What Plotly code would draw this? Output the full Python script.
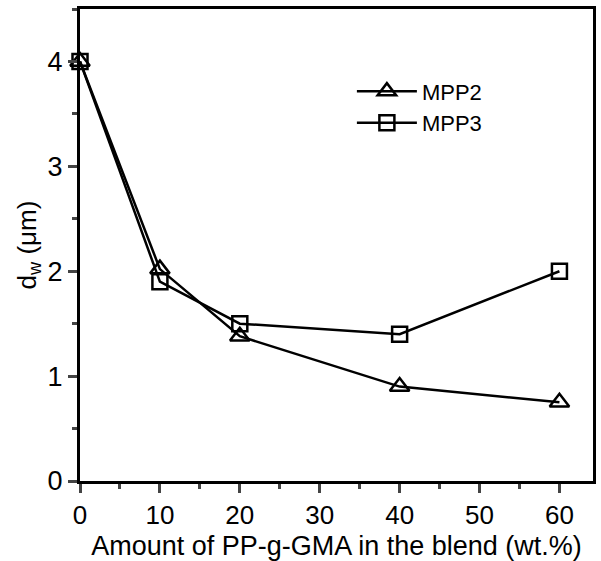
import plotly.graph_objects as go

x_vals = [0, 10, 20, 40, 60]
mpp2 = [4.0, 2.02, 1.38, 0.90, 0.75]
mpp3 = [4.0, 1.90, 1.50, 1.40, 2.00]
series_names = ["MPP2", "MPP3"]

fig = go.Figure()
fig.add_trace(go.Scatter(
    x=x_vals, y=mpp2, name=series_names[0], mode="lines+markers",
    line=dict(color="black", width=2.5),
    marker=dict(symbol="triangle-up-open", size=17, color="black", line=dict(width=2.5)),
    cliponaxis=False,
))
fig.add_trace(go.Scatter(
    x=x_vals, y=mpp3, name=series_names[1], mode="lines+markers",
    line=dict(color="black", width=2.5),
    marker=dict(symbol="square-open", size=15, color="black", line=dict(width=2.5)),
    cliponaxis=False,
))

font_family = "Liberation Sans, Arial, sans-serif"
fig.update_layout(
    width=601, height=561,
    margin=dict(l=80, r=8, t=9, b=80),
    paper_bgcolor="white", plot_bgcolor="white",
    font=dict(family=font_family, size=26, color="black"),
    showlegend=True,
    legend=dict(x=0.53, y=0.87, xanchor="left", yanchor="top",
                bgcolor="rgba(0,0,0,0)", font=dict(size=22),
                tracegroupgap=0, itemwidth=60),
    xaxis=dict(
        range=[0, 64.2], tick0=0, dtick=10, ticks="outside", ticklen=9, tickwidth=2.5,
        showline=True, linewidth=3, linecolor="black", mirror=True,
        showgrid=False, zeroline=False, automargin=False,
        minor=dict(ticks="outside", dtick=5, ticklen=5, tickwidth=2.5, showgrid=False),
        title=dict(text="Amount of PP-g-GMA in the blend (wt.%)", font=dict(size=27), standoff=8),
        tickfont=dict(size=26),
    ),
    yaxis=dict(
        range=[0, 4.5], tick0=0, dtick=1, ticks="outside", ticklen=9, tickwidth=2.5,
        showline=True, linewidth=3, linecolor="black", mirror=True,
        showgrid=False, zeroline=False, automargin=False,
        minor=dict(ticks="outside", dtick=0.5, ticklen=5, tickwidth=2.5, showgrid=False),
        title=dict(text="d<sub>w</sub> (μm)", font=dict(size=26), standoff=4),
        tickfont=dict(size=27),
    ),
)

fig.write_html("out.html")
